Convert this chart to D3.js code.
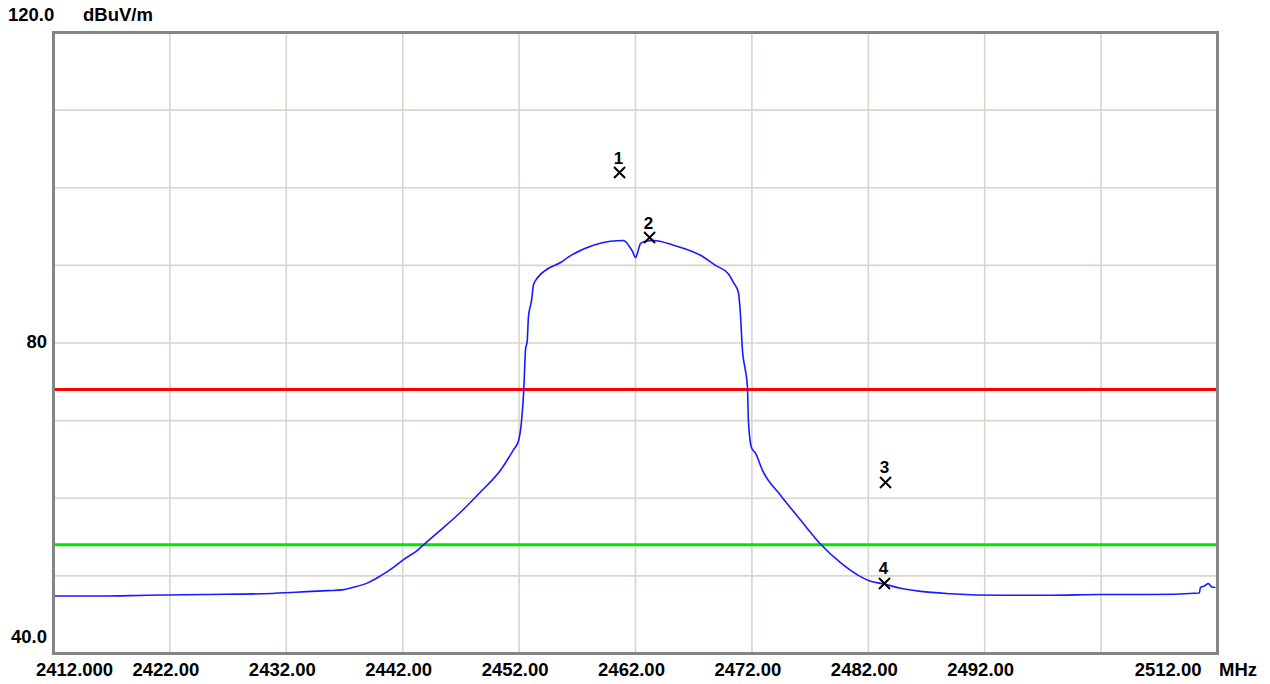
<!DOCTYPE html>
<html>
<head>
<meta charset="utf-8">
<script src="https://cdn.jsdelivr.net/npm/d3@7"></script>
<style>
  html, body { margin: 0; padding: 0; background: #ffffff; }
  svg { display: block; }
  text { font-family: "Liberation Sans", Arial, sans-serif; font-weight: bold; fill: #000; }
</style>
</head>
<body>
<svg id="chart" width="1270" height="684"></svg>
<script>
// ---- Data ----
const freqDomain = [2412, 2512];
const levelDomain = [40, 120];

const xTickValues = [2412, 2422, 2432, 2442, 2452, 2462, 2472, 2482, 2492, 2502, 2512];
const xTickLabels = ["2412.000", "2422.00", "2432.00", "2442.00", "2452.00", "2462.00", "2472.00", "2482.00", "2492.00", "", "2512.00"];
const yGridValues = [50, 60, 70, 80, 90, 100, 110];
const yLabelValues = [120, 80, 40];
const yLabelTexts = ["120.0", "80", "40.0"];
const unitY = "dBuV/m";
const unitX = "MHz";

const limitPeak = 74;
const limitAvg = 54;

const traceFreq = [
  2412.0, 2416.0, 2420.0, 2425.0, 2430.0, 2432.8, 2435.6, 2436.8, 2437.7, 2439.0,
  2440.09, 2441.21, 2442.07, 2443.27, 2443.79, 2445.25, 2446.97, 2448.68, 2450.4,
  2451.5, 2451.95, 2452.2, 2452.4, 2452.55, 2452.7, 2452.8, 2453.07, 2453.24, 2453.58,
  2454.5, 2455.6, 2456.16, 2458.39, 2459.85, 2460.97, 2461.4, 2461.74, 2462.0, 2462.17,
  2462.43, 2462.86, 2463.55, 2465.26, 2467.58, 2468.87, 2469.99, 2470.41, 2470.84, 2471.01,
  2471.19, 2471.44, 2471.62, 2471.7, 2471.97, 2472.31, 2472.91, 2474.46, 2476.18, 2477.89,
  2479.61, 2481.33, 2482.19, 2483.22, 2484.77, 2486.5, 2489.06, 2493.36, 2497.65, 2501.95,
  2506.24, 2510.44, 2510.53, 2510.87, 2511.22, 2511.48, 2511.82
];
const traceLevel = [
  47.4, 47.4, 47.5, 47.6, 47.7, 47.9, 48.1, 48.2, 48.5, 49.1,
  50.0, 51.1, 52.1, 53.3, 54.0, 55.9, 58.2, 60.8, 63.6,
  66.2, 67.4, 69.8, 73.9, 79.1, 80.3, 83.3, 85.5, 87.5, 88.4,
  89.6, 90.4, 91.0, 92.6, 93.1, 93.2, 92.6, 91.8, 91.0, 91.6,
  92.8, 93.1, 93.2, 92.6, 91.3, 90.0, 88.9, 87.8, 86.5, 83.8,
  79.0, 76.5, 74.3, 70.0, 66.5, 65.8, 63.6, 60.4, 57.2, 54.1,
  51.7, 49.9, 49.3, 49.0, 48.4, 48.0, 47.7, 47.5, 47.5, 47.6,
  47.6, 47.8, 48.5, 48.7, 49.0, 48.6, 48.5
];

const markerIds = ["1", "2", "3", "4"];
const markerFreq = [2460.63, 2463.21, 2483.48, 2483.39];
const markerLevel = [101.96, 93.59, 62.03, 49.02];

// ---- Layout ----
const plot = { left: 53.5, right: 1217.5, top: 32.5, bottom: 653.5 };
const svg = d3.select("#chart");
svg.append("rect").attr("width", 1270).attr("height", 684).attr("fill", "#fff");

const x = d3.scaleLinear().domain(freqDomain).range([plot.left, plot.right]);
const y = d3.scaleLinear().domain(levelDomain).range([plot.bottom, plot.top]);

// grid
const grid = svg.append("g");
grid.selectAll("line.vx").data(xTickValues.slice(1, -1)).join("line")
  .attr("x1", d => x(d)).attr("x2", d => x(d))
  .attr("y1", plot.top).attr("y2", plot.bottom)
  .attr("stroke", "#d9d5ce").attr("stroke-width", 1.6);
grid.selectAll("line.hy").data(yGridValues).join("line")
  .attr("x1", plot.left).attr("x2", plot.right)
  .attr("y1", d => y(d)).attr("y2", d => y(d))
  .attr("stroke", "#d9d5ce").attr("stroke-width", 1.6);

// limit lines
svg.append("line").attr("x1", plot.left).attr("x2", plot.right)
  .attr("y1", y(limitPeak)).attr("y2", y(limitPeak))
  .attr("stroke", "#ff0000").attr("stroke-width", 3);
svg.append("line").attr("x1", plot.left).attr("x2", plot.right)
  .attr("y1", y(limitAvg)).attr("y2", y(limitAvg))
  .attr("stroke", "#00e400").attr("stroke-width", 3);

// trace
const pts = traceFreq.map((f, i) => [f, traceLevel[i]]);
const line = d3.line().x(d => x(d[0])).y(d => y(d[1])).curve(d3.curveMonotoneX);
svg.append("path").attr("d", line(pts))
  .attr("fill", "none").attr("stroke", "#1a1aff").attr("stroke-width", 1.6);

// frame
svg.append("rect")
  .attr("x", plot.left).attr("y", plot.top)
  .attr("width", plot.right - plot.left).attr("height", plot.bottom - plot.top)
  .attr("fill", "none").attr("stroke", "#858585").attr("stroke-width", 3);

// markers
const mk = svg.append("g");
markerIds.forEach((id, i) => {
  const cx = x(markerFreq[i]), cy = y(markerLevel[i]);
  const s = 5.5;
  mk.append("path")
    .attr("d", `M${cx - s},${cy - s}L${cx + s},${cy + s}M${cx - s},${cy + s}L${cx + s},${cy - s}`)
    .attr("stroke", "#000").attr("stroke-width", 2).attr("fill", "none");
  mk.append("text").attr("x", cx - 1).attr("y", cy - 9)
    .attr("text-anchor", "middle").attr("font-size", 17).text(id);
});

// axis labels
const fs = 18.5;
svg.selectAll("text.xl").data(xTickValues).join("text")
  .attr("x", (d, i) => i === 0 ? 36 : (i === xTickValues.length - 1 ? x(d) - 16 : x(d) - 4))
  .attr("y", 676)
  .attr("text-anchor", (d, i) => i === 0 ? "start" : (i === xTickValues.length - 1 ? "end" : "middle"))
  .attr("font-size", fs)
  .text((d, i) => xTickLabels[i]);
svg.append("text").attr("x", 1219).attr("y", 676).attr("font-size", fs).text(unitX);

svg.selectAll("text.yl").data(yLabelValues).join("text")
  .attr("x", (d, i) => i === 0 ? 8 : 47)
  .attr("y", (d, i) => i === 0 ? 21 : (i === 1 ? y(d) + 5 : y(d) - 11))
  .attr("text-anchor", (d, i) => i === 0 ? "start" : "end")
  .attr("font-size", fs)
  .text((d, i) => yLabelTexts[i]);
svg.append("text").attr("x", 83).attr("y", 21).attr("font-size", fs).text(unitY);
</script>
</body>
</html>
